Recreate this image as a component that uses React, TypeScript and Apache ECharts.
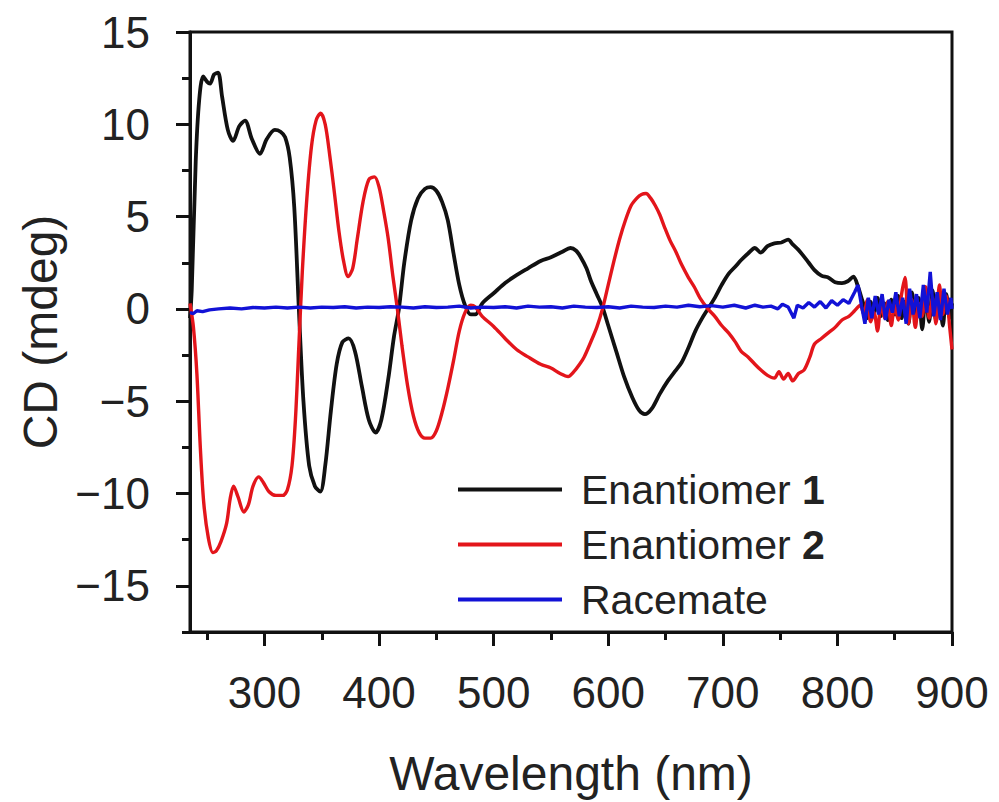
import React, { useEffect, useRef } from "react";
import * as echarts from "echarts";

// ---- Data ----
const seriesNames = ["Enantiomer 1", "Enantiomer 2", "Racemate"];

const xMajorTicks = [300, 400, 500, 600, 700, 800, 900];
const xMinorTicks = [250, 350, 450, 550, 650, 750, 850];
const yMajorTicks = [-15, -10, -5, 0, 5, 10, 15];
const yMinorTicks = [-17.5, -12.5, -7.5, -2.5, 2.5, 7.5, 12.5];

// Enantiomer 1 (black)
const e1Wl = [
  235, 236.5, 240, 243, 246.5, 250, 252.5, 256, 259.5, 263, 268, 272.6, 278, 283, 289, 296, 302, 309, 314, 318,
  322, 326, 330, 334, 339, 344, 348.7, 353, 358, 363, 368, 373.5, 379, 385, 391, 397, 402, 408, 413, 417.3,
  422, 428, 434, 440, 445, 450, 455, 460, 465, 470, 475, 480, 484, 490, 500, 510, 518, 530, 541, 550,
  560, 567, 572, 576, 581, 585, 590, 595, 600, 607, 614, 621, 627, 632, 638, 645, 652, 658, 664, 670,
  676, 682, 687, 693, 699, 705, 711, 716, 722, 728, 733, 739, 745, 751, 757, 761, 766, 770, 775, 780,
  786, 792, 798, 804, 809, 814, 818, 821, 823, 826, 829, 832, 835, 838, 841, 844, 847, 850, 853, 856,
  859, 862, 865, 868, 871, 874, 877, 880, 883, 886, 889, 892, 895, 898, 900,
];
const e1Cd = [
  -0.5, 1.0, 8.0, 11.3, 12.6, 12.3, 12.2, 12.7, 12.8, 11.5, 9.7, 9.1, 9.9, 10.2, 9.2, 8.4, 9.2, 9.7, 9.6, 9.3,
  8.2, 5.5, 0.0, -5.0, -8.5, -9.6, -9.9, -8.5, -5.5, -3.0, -1.8, -1.6, -2.3, -4.2, -6.0, -6.7, -6.0, -3.8, -1.5, 0.0,
  2.5, 4.8, 6.0, 6.5, 6.6, 6.4, 5.8, 4.8, 3.0, 1.3, 0.2, -0.3, -0.3, 0.3, 0.85, 1.4, 1.75, 2.2, 2.6, 2.8,
  3.1, 3.3, 3.15, 2.8, 2.2, 1.5, 0.8, 0.1, -0.9, -2.3, -3.7, -4.8, -5.5, -5.7, -5.4, -4.6, -3.9, -3.4, -2.9, -2.1,
  -1.2, -0.5, 0.0, 0.6, 1.3, 1.9, 2.3, 2.65, 3.0, 3.3, 3.05, 3.4, 3.55, 3.6, 3.75, 3.5, 3.2, 2.9, 2.5, 2.1,
  1.8, 1.7, 1.45, 1.4, 1.5, 1.75, 1.2, 0.6, 0.2, -0.5, 0.4, -0.2, 0.6, -0.4, 0.3, -0.6, 0.5, -0.3, 0.7, -0.5,
  0.4, -0.8, 0.9, -0.4, 0.6, -1.1, 0.8, -0.7, 1.0, -0.6, 0.5, -0.9, 0.8, -0.5, 0.3,
];

// Enantiomer 2 (red)
const e2Wl = [
  235, 238, 241, 244, 247, 251, 255, 258, 262, 267, 270, 273, 277, 282, 286, 290, 295, 299, 304, 310,
  316, 320, 324, 327, 330, 333, 337, 341, 345, 349, 353, 357, 361, 365, 369, 373, 377, 381, 386, 391,
  396, 400, 404, 408, 412, 416, 420, 425, 430, 435, 440, 445, 450, 455, 460, 465, 470, 475, 480, 484,
  490, 500, 510, 520, 530, 541, 550, 558, 565, 570, 575, 579, 584, 590, 595, 600, 605, 610, 615, 620,
  625, 629, 633, 637, 641, 645, 649, 654, 659, 664, 670, 675, 680, 687, 693, 699, 705, 711, 716, 722,
  728, 733, 739, 745, 749, 753, 757, 761, 766, 771, 776, 780, 786, 792, 798, 804, 810, 815, 820, 823,
  826, 829, 832, 835, 838, 841, 844, 847, 850, 853, 856, 859, 862, 865, 868, 871, 874, 877, 880, 883,
  886, 889, 892, 895, 898, 900,
];
const e2Cd = [
  0.3, -1.0, -3.5, -7.5, -10.5, -12.4, -13.2, -13.1, -12.6, -11.6, -10.3, -9.6, -10.2, -11.0, -10.6, -9.6, -9.1, -9.4, -9.9, -10.1,
  -10.1, -9.8, -8.5, -6.0, -2.0, 2.0, 6.0, 8.8, 10.2, 10.6, 10.0, 8.3, 6.3, 4.2, 2.6, 1.75, 2.2, 3.8, 5.8, 7.0,
  7.15, 6.6, 5.3, 3.8, 1.8, 0.0, -2.0, -4.2, -5.8, -6.7, -7.0, -7.0, -6.6, -5.6, -4.3, -2.8, -1.2, -0.2, 0.2, 0.1,
  -0.4, -0.95, -1.6, -2.2, -2.6, -3.0, -3.2, -3.5, -3.66, -3.4, -3.0, -2.6, -1.9, -1.0, 0.0, 1.3, 2.6, 3.8, 4.8, 5.6,
  6.0, 6.2, 6.25, 6.0, 5.6, 5.1, 4.45, 3.7, 3.1, 2.4, 1.7, 1.2, 0.6, 0.0, -0.4, -0.9, -1.3, -1.8, -2.3, -2.6,
  -3.0, -3.3, -3.6, -3.75, -3.4, -3.8, -3.5, -3.9, -3.5, -3.3, -2.6, -1.9, -1.6, -1.3, -1.0, -0.6, -0.4, -0.1, 0.2, -0.3,
  0.5, -0.7, -0.2, -1.2, 0.3, -0.5, 0.4, -0.9, 0.2, -0.6, 0.8, 1.7, -0.8, 0.5, -1.0, 0.3, -0.4, 1.2, -0.5, 0.6,
  -0.8, 1.3, -0.3, 0.7, -1.0, -2.2,
];

// Racemate (blue)
const racWl = [
  235, 238, 241, 246, 252, 260, 270, 280, 290, 300, 310, 320, 330, 340, 350, 360, 370, 380, 390, 400,
  410, 420, 430, 440, 450, 460, 470, 480, 490, 500, 510, 520, 530, 540, 550, 560, 570, 580, 590, 600,
  610, 620, 630, 640, 650, 660, 670, 680, 690, 700, 710, 720, 728, 735, 742, 748, 752, 757, 762, 765,
  770, 775, 780, 785, 790, 795, 800, 805, 810, 815, 818, 821, 824, 827, 830, 833, 836, 839, 842, 845,
  848, 851, 854, 857, 860, 863, 866, 869, 872, 875, 878, 881, 884, 887, 890, 893, 896, 899, 900,
];
const racCd = [
  -0.2, -0.25, -0.1, -0.15, -0.05, 0.0, 0.05, 0.0, 0.08, 0.05, 0.1, 0.05, 0.1, 0.05, 0.1, 0.08, 0.12, 0.05, 0.1, 0.08,
  0.12, 0.1, 0.05, 0.12, 0.08, 0.1, 0.15, 0.05, 0.1, 0.08, 0.12, 0.05, 0.15, 0.1, 0.12, 0.05, 0.15, 0.1, 0.08, 0.12,
  0.05, 0.15, 0.1, 0.08, 0.15, 0.1, 0.2, 0.12, 0.18, 0.1, 0.2, 0.05, 0.2, 0.1, 0.15, 0.0, 0.25, 0.1, -0.5, 0.2,
  0.05, 0.35, 0.1, 0.4, 0.05, 0.45, 0.2, 0.5, 0.3, 0.9, 1.3, 0.2, -0.8, 0.6, -0.5, 0.7, -0.3, 0.8, -0.6, 0.5,
  -0.2, 0.9, -0.4, 0.6, -0.8, 1.1, -0.3, 0.8, -0.5, 1.3, -0.2, 2.0, -0.4, 0.9, -0.6, 1.1, -0.3, 0.6, 0.0,
];

const colors = ["#111111", "#e3151b", "#1212d6"];
const FONT = "'Liberation Sans', Arial, Helvetica, sans-serif";

const pairs = (xs: number[], ys: number[]) => xs.map((x, i) => [x, ys[i]]);
const fmtY = (v: number) => (v < 0 ? "\u2212" + Math.abs(v) : String(v));

export default function App() {
  const ref = useRef<HTMLDivElement>(null);

  useEffect(() => {
    if (!ref.current) return;
    const chart = echarts.init(ref.current, undefined, { renderer: "svg" });
    const xMin = 235;
    const xMax = 900;
    const yMin = -17.5;
    const yMax = 15;
    const axisColor = "#111";

    chart.setOption({
      animation: false,
      backgroundColor: "#ffffff",
      grid: {
        left: 190,
        right: 47,
        top: 32,
        bottom: 169,
        show: true,
        borderColor: axisColor,
        borderWidth: 3,
        backgroundColor: "transparent",
      },
      xAxis: [
        {
          type: "value",
          min: xMin,
          max: xMax,
          position: "bottom",
          name: "Wavelength (nm)",
          nameLocation: "middle",
          nameGap: 117,
          nameTextStyle: { fontFamily: FONT, fontSize: 48, color: "#222" },
          axisLine: { show: true, onZero: false, lineStyle: { color: axisColor, width: 3 } },
          axisTick: { show: true, inside: false, length: 14, customValues: xMajorTicks, lineStyle: { color: axisColor, width: 3 } },
          axisLabel: { show: true, customValues: xMajorTicks, margin: 38, fontFamily: FONT, fontSize: 44, color: "#222" },
          splitLine: { show: false },
        },
        {
          type: "value",
          min: xMin,
          max: xMax,
          position: "bottom",
          offset: 0,
          axisLine: { show: false, onZero: false },
          axisTick: { show: true, inside: false, length: 8, customValues: xMinorTicks, lineStyle: { color: axisColor, width: 3 } },
          axisLabel: { show: false },
          splitLine: { show: false },
        },
      ],
      yAxis: [
        {
          type: "value",
          min: yMin,
          max: yMax,
          position: "left",
          name: "CD (mdeg)",
          nameLocation: "middle",
          nameGap: 122,
          nameRotate: 90,
          nameTextStyle: { fontFamily: FONT, fontSize: 48, color: "#222" },
          axisLine: { show: true, onZero: false, lineStyle: { color: axisColor, width: 3 } },
          axisTick: { show: true, inside: false, length: 14, customValues: yMajorTicks, lineStyle: { color: axisColor, width: 3 } },
          axisLabel: { show: true, customValues: yMajorTicks, margin: 40, fontFamily: FONT, fontSize: 44, color: "#222", formatter: fmtY },
          splitLine: { show: false },
        },
        {
          type: "value",
          min: yMin,
          max: yMax,
          position: "left",
          offset: 0,
          axisLine: { show: false, onZero: false },
          axisTick: { show: true, inside: false, length: 8, customValues: yMinorTicks, lineStyle: { color: axisColor, width: 3 } },
          axisLabel: { show: false },
          splitLine: { show: false },
        },
      ],
      legend: {
        orient: "vertical",
        left: 453,
        top: 464,
        itemWidth: 104,
        itemHeight: 4,
        itemGap: 14,
        icon: "rect",
        data: seriesNames,
        formatter: (name: string) => name.replace(/ (\d)$/, " {b|$1}"),
        textStyle: {
          fontFamily: FONT,
          fontSize: 41,
          color: "#222",
          lineHeight: 40,
          padding: [0, 0, 0, 14],
          rich: {
            b: { fontFamily: FONT, fontSize: 41, fontWeight: "bold", color: "#222", lineHeight: 40 },
          },
        },
      },
      series: [
        {
          name: seriesNames[0],
          type: "line",
          data: pairs(e1Wl, e1Cd),
          xAxisIndex: 0,
          yAxisIndex: 0,
          showSymbol: false,
          smooth: 0.3,
          lineStyle: { color: colors[0], width: 3.8 },
          itemStyle: { color: colors[0] },
          z: 2,
        },
        {
          name: seriesNames[1],
          type: "line",
          data: pairs(e2Wl, e2Cd),
          xAxisIndex: 0,
          yAxisIndex: 0,
          showSymbol: false,
          smooth: 0.3,
          lineStyle: { color: colors[1], width: 3.4 },
          itemStyle: { color: colors[1] },
          z: 3,
        },
        {
          name: seriesNames[2],
          type: "line",
          data: pairs(racWl, racCd),
          xAxisIndex: 0,
          yAxisIndex: 0,
          showSymbol: false,
          smooth: false,
          lineStyle: { color: colors[2], width: 3.4 },
          itemStyle: { color: colors[2] },
          z: 4,
        },
      ],
    });

    return () => chart.dispose();
  }, []);

  return (
    <div
      ref={ref}
      style={{ position: "fixed", left: 0, top: 0, width: 999, height: 802, background: "#fff" }}
    />
  );
}
